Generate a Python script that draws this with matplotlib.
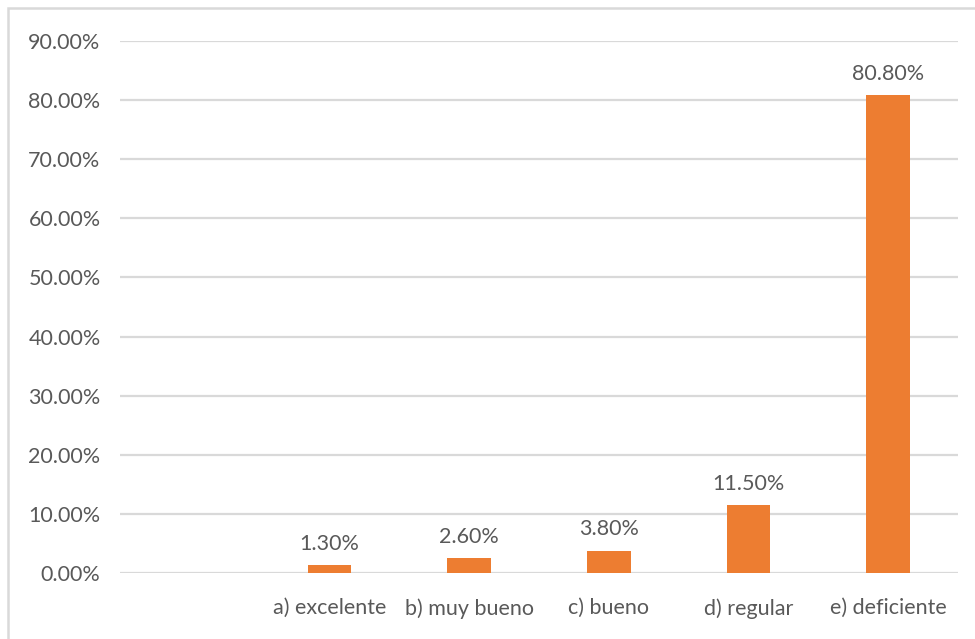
import matplotlib.pyplot as plt
from matplotlib.patches import Rectangle
from matplotlib.ticker import FuncFormatter

# data
categories = ['', 'a) excelente', 'b) muy bueno', 'c) bueno', 'd) regular', 'e) deficiente']
values = [None, 1.30, 2.60, 3.80, 11.50, 80.80]
yticks = [0, 10, 20, 30, 40, 50, 60, 70, 80, 90]

txt = '#595959'
grid = '#d9d9d9'
bar_color = '#ed7d31'
plt.rcParams['font.family'] = ['Lato', 'DejaVu Sans']

fig = plt.figure(figsize=(9.75, 6.39), dpi=100)
ax = fig.add_axes([120/975, 1 - 573/639, 838/975, (573 - 41)/639])

# outer frame of the chart area
fig.patches.append(Rectangle((8/975, -0.05), 1.0, 1 - 8/639 + 0.05, transform=fig.transFigure,
                             fill=False, edgecolor=grid, linewidth=1.8))

x = list(range(len(categories)))
for i, v in enumerate(values):
    if v is None:
        continue
    ax.bar(i, v, width=0.315, color=bar_color, zorder=3)
    ax.annotate(f'{v:.2f}%', (i, v), xytext=(0, 8), textcoords='offset points',
                ha='center', va='bottom', fontsize=15.5, color=txt)

ax.set_xlim(-0.5, len(categories) - 0.5)
ax.set_ylim(0, 90)
ax.set_yticks(yticks)
ax.yaxis.set_major_formatter(FuncFormatter(lambda v, p: f'{v:.2f}%'))
ax.set_xticks(x)
ax.set_xticklabels(categories)
ax.grid(axis='y', color=grid, linewidth=1.6, zorder=0)
ax.set_axisbelow(True)
for s in ax.spines.values():
    s.set_visible(False)
ax.tick_params(axis='both', length=0, labelsize=15.5, labelcolor=txt)
ax.tick_params(axis='x', pad=18)
ax.tick_params(axis='y', pad=14)

fig.savefig('out.png', dpi=100)
